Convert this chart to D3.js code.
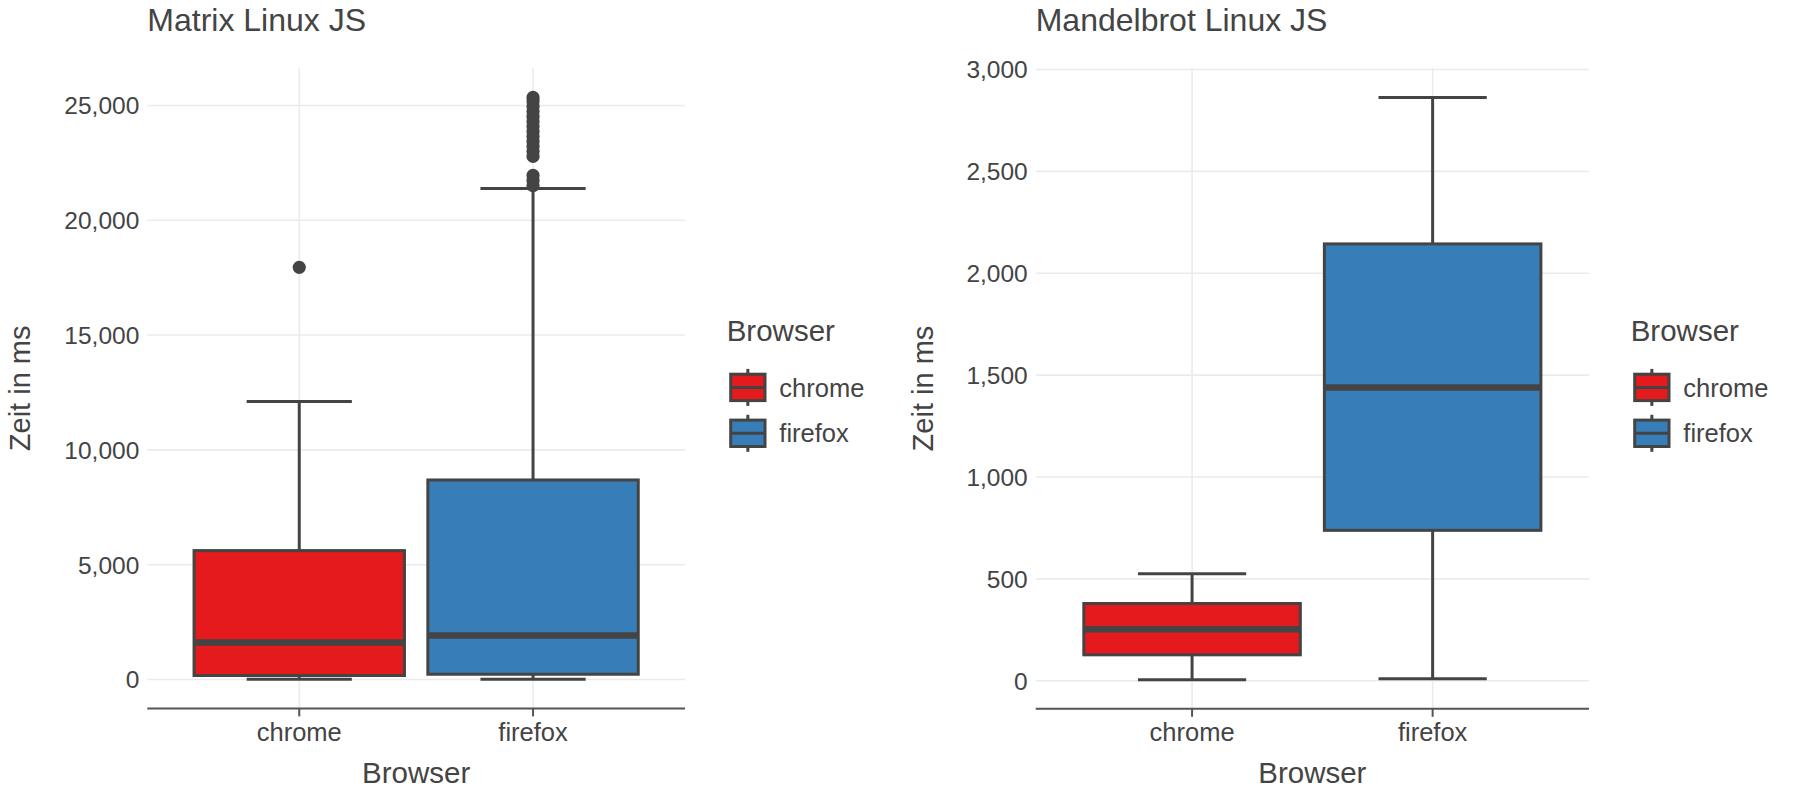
<!DOCTYPE html>
<html>
<head>
<meta charset="utf-8">
<script src="https://cdn.jsdelivr.net/npm/d3@7/dist/d3.min.js"></script>
<style>
  html, body { margin: 0; padding: 0; background: #ffffff; }
  svg { display: block; }
  text { font-family: "Liberation Sans", Arial, Helvetica, sans-serif; fill: #444444; }
</style>
</head>
<body>
<svg id="chart" width="1800" height="800"></svg>
<script>
// ---------------- DATA ----------------
const browsers = ["chrome", "firefox"];
const browserColors = ["#E41A1C", "#377EB8"];

// Matrix Linux JS (ms)
const matrixLower  = [10, 15];
const matrixQ1     = [175, 230];
const matrixMedian = [1615, 1920];
const matrixQ3     = [5615, 8690];
const matrixUpper  = [12110, 21380];
const matrixChromeOutliers  = [17950];
const matrixFirefoxOutliers = [25350, 25180, 24960, 24740, 24520, 24300, 24090, 23870,
                               23650, 23430, 23220, 23000, 22780, 21950, 21730, 21510];
const matrixTicks = [0, 5000, 10000, 15000, 20000, 25000];

// Mandelbrot Linux JS (ms)
const mandelLower  = [5, 10];
const mandelQ1     = [127, 738];
const mandelMedian = [252, 1439];
const mandelQ3     = [379, 2144];
const mandelUpper  = [525, 2863];
const mandelChromeOutliers  = [];
const mandelFirefoxOutliers = [];
const mandelTicks = [0, 500, 1000, 1500, 2000, 2500, 3000];

const plotTitles = ["Matrix Linux JS", "Mandelbrot Linux JS"];
const xTitle = "Browser";
const yTitle = "Zeit in ms";
const legendTitle = "Browser";

// ---------------- DRAW ----------------
const svg = d3.select("#chart");
const fmt = d3.format(",");
const INK = "#444444";

function drawPanel(opt) {
  const g = svg.append("g");
  const {x0, x1, yTop, yBot} = opt;

  const stats = browsers.map((b, i) => ({
    name: b, color: browserColors[i],
    lower: opt.lower[i], q1: opt.q1[i], median: opt.median[i], q3: opt.q3[i], upper: opt.upper[i],
    outliers: opt.outliers[i]
  }));

  const allVals = stats.flatMap(s => [s.lower, s.upper, ...s.outliers]);
  const mn = d3.min(allVals), mx = d3.max(allVals);
  const pad = (mx - mn) * 0.05;

  const y = d3.scaleLinear().domain([mn - pad, mx + pad]).range([yBot, yTop]);
  const x = d3.scalePoint().domain(browsers).range([x0, x1]).padding(0.65);
  const step = x.step();
  const boxW = step * 0.9;
  const stapleW = step * 0.45;

  // grid
  g.append("g").selectAll("line.h").data(opt.ticks).join("line")
    .attr("x1", x0).attr("x2", x1)
    .attr("y1", d => y(d)).attr("y2", d => y(d))
    .attr("stroke", "#EBEBEB").attr("stroke-width", 1.6);
  g.append("g").selectAll("line.v").data(browsers).join("line")
    .attr("x1", d => x(d)).attr("x2", d => x(d))
    .attr("y1", yTop).attr("y2", yBot)
    .attr("stroke", "#EBEBEB").attr("stroke-width", 1.6);

  // y tick labels
  g.append("g").selectAll("text").data(opt.ticks).join("text")
    .attr("x", x0 - 8).attr("y", d => y(d)).attr("dy", "0.36em")
    .attr("text-anchor", "end").attr("font-size", 24.5)
    .text(d => fmt(d));

  // boxes
  const bg = g.append("g").selectAll("g").data(stats).join("g");
  // whiskers
  bg.append("line")
    .attr("x1", d => x(d.name)).attr("x2", d => x(d.name))
    .attr("y1", d => y(d.q3)).attr("y2", d => y(d.upper))
    .attr("stroke", INK).attr("stroke-width", 3);
  bg.append("line")
    .attr("x1", d => x(d.name)).attr("x2", d => x(d.name))
    .attr("y1", d => y(d.q1)).attr("y2", d => y(d.lower))
    .attr("stroke", INK).attr("stroke-width", 3);
  // staples
  bg.append("line")
    .attr("x1", d => x(d.name) - stapleW / 2).attr("x2", d => x(d.name) + stapleW / 2)
    .attr("y1", d => y(d.upper)).attr("y2", d => y(d.upper))
    .attr("stroke", INK).attr("stroke-width", 3);
  bg.append("line")
    .attr("x1", d => x(d.name) - stapleW / 2).attr("x2", d => x(d.name) + stapleW / 2)
    .attr("y1", d => y(d.lower)).attr("y2", d => y(d.lower))
    .attr("stroke", INK).attr("stroke-width", 3);
  // box
  bg.append("rect")
    .attr("x", d => x(d.name) - boxW / 2).attr("width", boxW)
    .attr("y", d => y(d.q3)).attr("height", d => y(d.q1) - y(d.q3))
    .attr("fill", d => d.color).attr("stroke", INK).attr("stroke-width", 3);
  // median
  bg.append("line")
    .attr("x1", d => x(d.name) - boxW / 2).attr("x2", d => x(d.name) + boxW / 2)
    .attr("y1", d => y(d.median)).attr("y2", d => y(d.median))
    .attr("stroke", INK).attr("stroke-width", 6.5);
  // outliers
  bg.selectAll("circle").data(d => d.outliers.map(v => ({name: d.name, v}))).join("circle")
    .attr("cx", d => x(d.name)).attr("cy", d => y(d.v)).attr("r", 6.6)
    .attr("fill", INK);

  // x axis line + ticks
  g.append("line").attr("x1", x0).attr("x2", x1).attr("y1", yBot).attr("y2", yBot)
    .attr("stroke", "#555555").attr("stroke-width", 2);
  g.append("g").selectAll("line").data(browsers).join("line")
    .attr("x1", d => x(d)).attr("x2", d => x(d))
    .attr("y1", yBot).attr("y2", yBot + 8)
    .attr("stroke", "#555555").attr("stroke-width", 2);
  g.append("g").selectAll("text").data(browsers).join("text")
    .attr("x", d => x(d)).attr("y", 741)
    .attr("text-anchor", "middle").attr("font-size", 25.5)
    .text(d => d);

  // axis titles
  g.append("text").attr("x", (x0 + x1) / 2).attr("y", 783)
    .attr("text-anchor", "middle").attr("font-size", 29.5).text(xTitle);
  g.append("text")
    .attr("transform", `translate(${opt.yTitleX},${(yTop + yBot) / 2}) rotate(-90)`)
    .attr("text-anchor", "middle").attr("font-size", 29).text(yTitle);

  // plot title
  g.append("text").attr("x", x0).attr("y", 31)
    .attr("font-size", 32).text(opt.title);

  // legend
  const lg = g.append("g").attr("transform", `translate(${x1},0)`);
  lg.append("text").attr("x", 41.7).attr("y", 340.7).attr("font-size", 29.5).text(legendTitle);
  const keyY = d3.scalePoint().domain(browsers).range([387.4, 433.3]);
  const keys = lg.selectAll("g.key").data(stats).join("g")
    .attr("transform", d => `translate(0,${keyY(d.name)})`);
  const kx = 45.7, kw = 34.3, kc = kx + kw / 2;
  keys.append("line").attr("x1", kc).attr("x2", kc).attr("y1", -18.5).attr("y2", 18.5)
    .attr("stroke", INK).attr("stroke-width", 3);
  keys.append("rect").attr("x", kx).attr("width", kw).attr("y", -13.2).attr("height", 26.4)
    .attr("fill", d => d.color).attr("stroke", INK).attr("stroke-width", 3);
  keys.append("line").attr("x1", kx).attr("x2", kx + kw).attr("y1", 0).attr("y2", 0)
    .attr("stroke", INK).attr("stroke-width", 3);
  keys.append("text").attr("x", 94.3).attr("y", 0).attr("dy", "0.36em")
    .attr("font-size", 25.5).text(d => d.name);
}

drawPanel({
  title: plotTitles[0], x0: 147.3, x1: 685, yTop: 68.3, yBot: 708.4, yTitleX: 29.5,
  lower: matrixLower, q1: matrixQ1, median: matrixMedian, q3: matrixQ3, upper: matrixUpper,
  outliers: [matrixChromeOutliers, matrixFirefoxOutliers], ticks: matrixTicks
});
drawPanel({
  title: plotTitles[1], x0: 1035.7, x1: 1589, yTop: 68.3, yBot: 708.8, yTitleX: 933,
  lower: mandelLower, q1: mandelQ1, median: mandelMedian, q3: mandelQ3, upper: mandelUpper,
  outliers: [mandelChromeOutliers, mandelFirefoxOutliers], ticks: mandelTicks
});
</script>
</body>
</html>
